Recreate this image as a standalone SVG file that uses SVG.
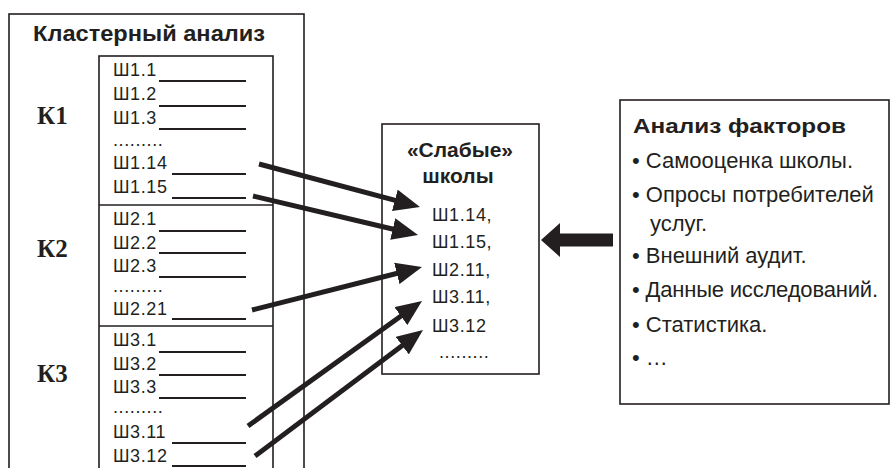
<svg xmlns="http://www.w3.org/2000/svg" width="890" height="468" viewBox="0 0 890 468">
<style>
.box{fill:#fff;stroke:#231f20;stroke-width:1.6}
.sep{stroke:#231f20;stroke-width:1.6}
.title{font-family:"Liberation Sans",Arial,sans-serif;font-weight:bold;fill:#231f20}
.k{font-family:"Liberation Serif","Times New Roman",serif;font-weight:bold;font-size:25px;fill:#231f20}
.it{font-family:"Liberation Sans",Arial,sans-serif;font-size:18px;letter-spacing:0.6px;fill:#231f20}
.ul{stroke:#231f20;stroke-width:1.8}
.li{font-family:"Liberation Sans",Arial,sans-serif;font-size:22px;fill:#231f20}
.arr{stroke:#231f20;stroke-width:5;fill:none}
</style>
<defs>
<marker id="ah" markerUnits="userSpaceOnUse" markerWidth="26" markerHeight="22" refX="16" refY="11" orient="auto" viewBox="0 0 26 22">
<path d="M0,0 L26,11 L0,22 z" fill="#231f20"/>
</marker>
</defs>
<rect width="890" height="468" fill="#fff"/>

<g id="cluster">
<rect class="box" x="9" y="14" width="295" height="470"/>
<text class="title" x="33" y="41" font-size="22" textLength="232" lengthAdjust="spacingAndGlyphs">Кластерный анализ</text>
<rect class="box" x="99" y="56" width="174" height="430"/>
<line class="sep" x1="99" y1="205" x2="273" y2="205"/>
<line class="sep" x1="99" y1="326" x2="273" y2="326"/>
</g>

<g id="k1">
<text class="k" x="37" y="124">К1</text>
<text class="it" x="113" y="76">Ш1.1</text><line class="ul" x1="159" y1="81" x2="246" y2="81"/>
<text class="it" x="113" y="100">Ш1.2</text><line class="ul" x1="159" y1="106" x2="246" y2="106"/>
<text class="it" x="113" y="124">Ш1.3</text><line class="ul" x1="159" y1="129" x2="246" y2="129"/>
<text class="it" x="113" y="146">.........</text>
<text class="it" x="113" y="169">Ш1.14</text><line class="ul" x1="172" y1="174" x2="246" y2="174"/>
<text class="it" x="113" y="193">Ш1.15</text><line class="ul" x1="172" y1="198" x2="246" y2="198"/>
</g>

<g id="k2">
<text class="k" x="37" y="257">К2</text>
<text class="it" x="113" y="225">Ш2.1</text><line class="ul" x1="159" y1="231" x2="246" y2="231"/>
<text class="it" x="113" y="249">Ш2.2</text><line class="ul" x1="159" y1="253" x2="246" y2="253"/>
<text class="it" x="113" y="272">Ш2.3</text><line class="ul" x1="159" y1="277" x2="246" y2="277"/>
<text class="it" x="113" y="292">.........</text>
<text class="it" x="113" y="315">Ш2.21</text><line class="ul" x1="172" y1="319" x2="246" y2="319"/>
</g>

<g id="k3">
<text class="k" x="37" y="382">К3</text>
<text class="it" x="113" y="346">Ш3.1</text><line class="ul" x1="159" y1="352" x2="246" y2="352"/>
<text class="it" x="113" y="370">Ш3.2</text><line class="ul" x1="159" y1="375" x2="246" y2="375"/>
<text class="it" x="113" y="393">Ш3.3</text><line class="ul" x1="159" y1="398" x2="246" y2="398"/>
<text class="it" x="113" y="413">.........</text>
<text class="it" x="113" y="438">Ш3.11</text><line class="ul" x1="172" y1="443" x2="246" y2="443"/>
<text class="it" x="113" y="462">Ш3.12</text><line class="ul" x1="172" y1="466" x2="246" y2="466"/>
</g>

<g id="weak">
<rect class="box" x="382" y="124" width="157" height="250"/>
<text class="title" x="460" y="157" font-size="21" text-anchor="middle">«Слабые»</text>
<text class="title" x="458" y="183" font-size="21" text-anchor="middle">школы</text>
<text class="it" x="432" y="221">Ш1.14,</text>
<text class="it" x="432" y="248">Ш1.15,</text>
<text class="it" x="432" y="276">Ш2.11,</text>
<text class="it" x="432" y="303">Ш3.11,</text>
<text class="it" x="432" y="332">Ш3.12</text>
<text class="it" x="439" y="358">.........</text>
</g>

<g id="factors">
<rect class="box" x="620" y="100" width="269" height="304"/>
<text class="title" x="633" y="133" font-size="21" textLength="213" lengthAdjust="spacingAndGlyphs">Анализ факторов</text>
<text class="li" x="632" y="168">• Самооценка школы.</text>
<text class="li" x="632" y="202">• Опросы потребителей</text>
<text class="li" x="650" y="231">услуг.</text>
<text class="li" x="632" y="263">• Внешний аудит.</text>
<text class="li" x="632" y="297" textLength="246">• Данные исследований.</text>
<text class="li" x="632" y="332">• Статистика.</text>
<text class="li" x="632" y="365">•  …</text>
</g>

<g id="connectors">
<line class="arr" x1="259" y1="164" x2="410.3" y2="204.4" marker-end="url(#ah)"/>
<line class="arr" x1="253" y1="196" x2="408.3" y2="232.7" marker-end="url(#ah)"/>
<line class="arr" x1="252" y1="310" x2="412.3" y2="269.5" marker-end="url(#ah)"/>
<line class="arr" x1="248" y1="426" x2="413.9" y2="306.8" marker-end="url(#ah)"/>
<line class="arr" x1="255" y1="456" x2="415.0" y2="336.0" marker-end="url(#ah)"/>
<path d="M613,233.5 L560,233.5 L560,223 L541,240 L560,257 L560,246.5 L613,246.5 z" fill="#231f20"/>
</g>
</svg>
